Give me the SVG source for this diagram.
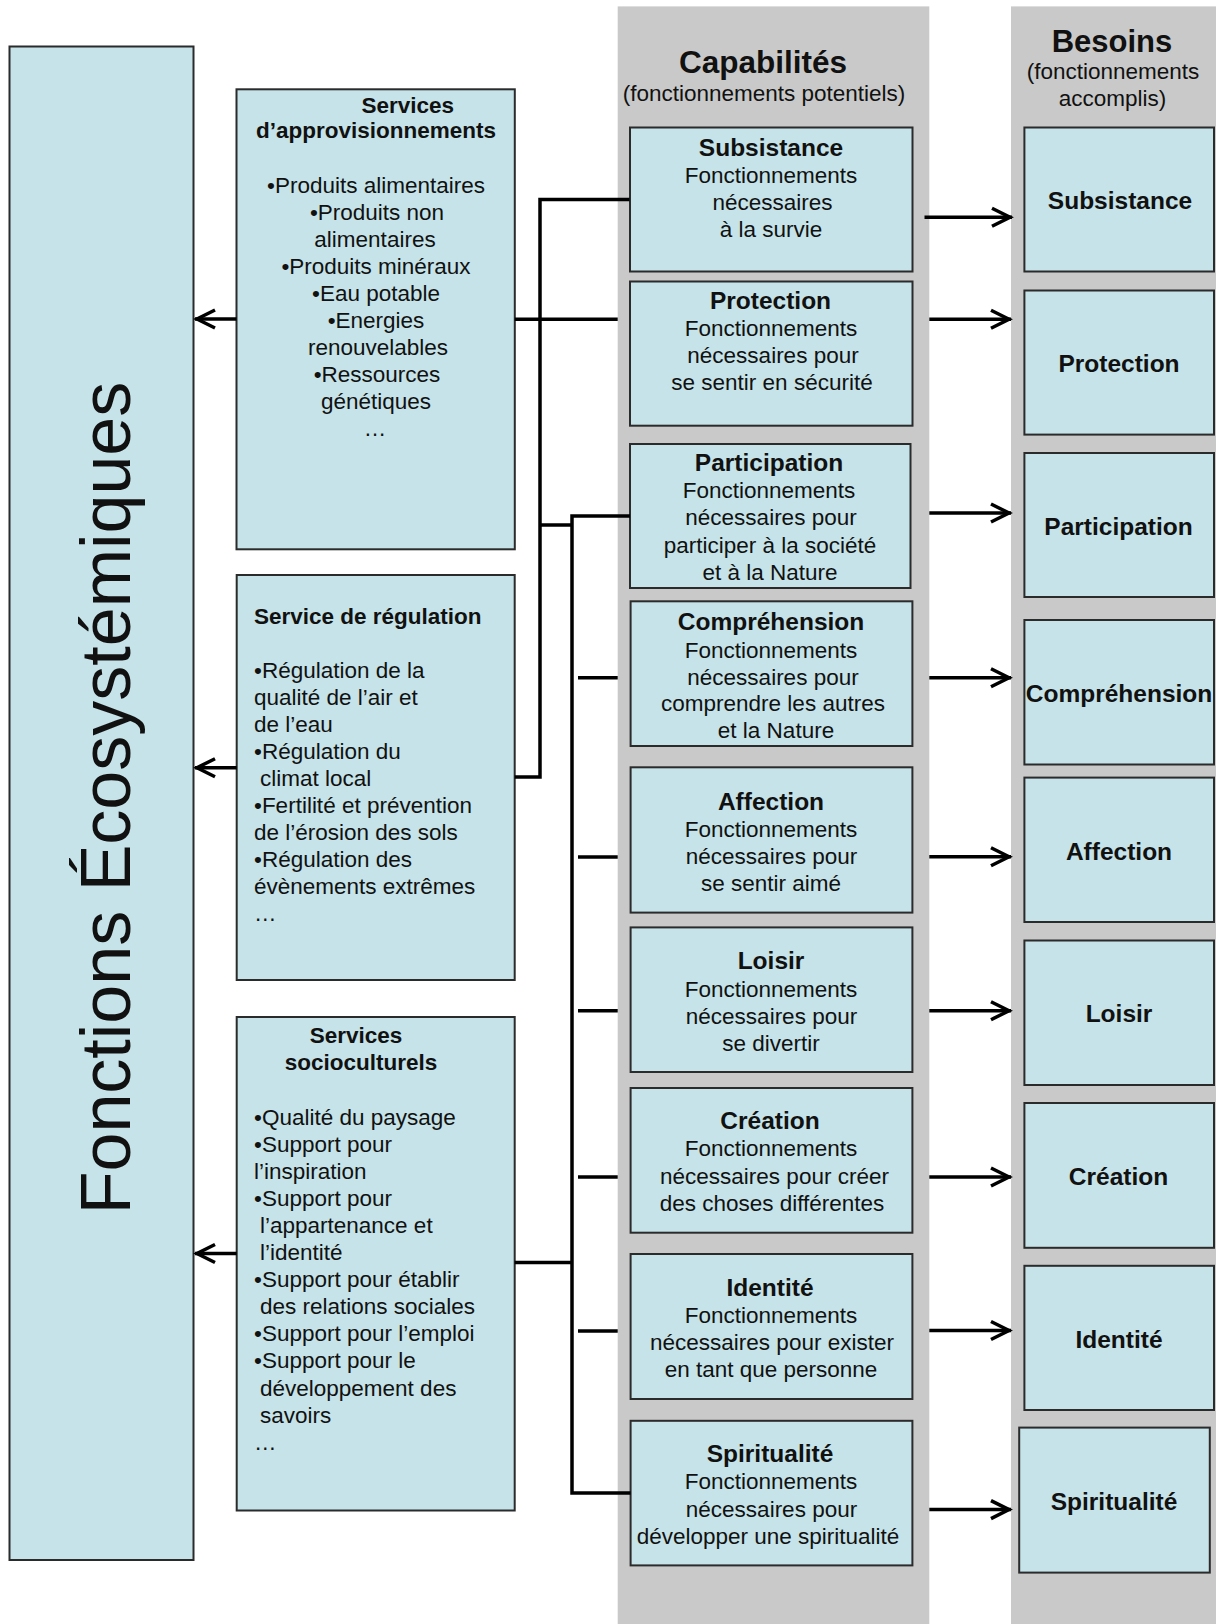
<svg xmlns="http://www.w3.org/2000/svg" width="1216" height="1624" viewBox="0 0 1216 1624">
<defs>
<style>
.box{fill:#c5e3e8;stroke:#2b2b2b;stroke-width:2}
.col{fill:#c9c9c9}
.t{font-family:"Liberation Sans",Arial,Helvetica,sans-serif;font-size:22.5px;fill:#111}
.b{font-weight:bold}
.h{font-size:24.5px;font-weight:bold}
.big{font-size:31px;font-weight:bold}
.c{text-anchor:middle}
.wire{stroke:#000;stroke-width:3.5;fill:none}
.arr{stroke:#000;stroke-width:3.5;fill:none;marker-end:url(#chev)}
</style>
<marker id="chev" viewBox="-22 -12 26 24" refX="2" refY="0" markerWidth="26" markerHeight="24" markerUnits="userSpaceOnUse" orient="auto">
<path d="M-18,-9 L0,0 L-18,9" fill="none" stroke="#000" stroke-width="3.5"/>
</marker>
</defs>
<rect width="1216" height="1624" fill="#fff"/>

<g id="columns">
<rect class="col" x="617.7" y="6.4" width="311.6" height="1617.6"/>
<rect class="col" x="1011" y="6.4" width="205" height="1617.6"/>
</g>

<g id="headers">
<text class="t big c" x="763" y="73" style="font-size:31.5px">Capabilités</text>
<text class="t c" x="764" y="101">(fonctionnements potentiels)</text>
<text class="t big c" x="1112" y="52">Besoins</text>
<text class="t c" x="1113" y="79">(fonctionnements</text>
<text class="t c" x="1112.5" y="106">accomplis)</text>
</g>

<g id="fonctions">
<rect class="box" x="9.5" y="46.5" width="184" height="1513.5"/>
<text class="t c" transform="translate(130,798) rotate(-90)" style="font-size:70px">Fonctions Écosystémiques</text>
</g>

<g id="approvisionnement">
<rect class="box" x="236.5" y="89.3" width="278.3" height="460"/>
<text class="t b c" x="407.7" y="112.5">Services</text>
<text class="t b c" x="376" y="137.5">d’approvisionnements</text>
<text class="t c" x="376" y="193">•Produits alimentaires</text>
<text class="t c" x="377" y="220">•Produits non</text>
<text class="t c" x="375" y="247">alimentaires</text>
<text class="t c" x="376" y="274">•Produits minéraux</text>
<text class="t c" x="376" y="301">•Eau potable</text>
<text class="t c" x="376" y="328">•Energies</text>
<text class="t c" x="378" y="355">renouvelables</text>
<text class="t c" x="377" y="382">•Ressources</text>
<text class="t c" x="376" y="409">génétiques</text>
<text class="t c" x="375" y="436">…</text>
</g>

<g id="regulation">
<rect class="box" x="236.7" y="575" width="278" height="405"/>
<text class="t b" x="254" y="624">Service de régulation</text>
<text class="t" x="254" y="678">•Régulation de la</text>
<text class="t" x="254" y="705">qualité de l’air et</text>
<text class="t" x="254" y="732">de l’eau</text>
<text class="t" x="254" y="759">•Régulation du</text>
<text class="t" x="260" y="786">climat local</text>
<text class="t" x="254" y="813">•Fertilité et prévention</text>
<text class="t" x="254" y="840">de l’érosion des sols</text>
<text class="t" x="254" y="867">•Régulation des</text>
<text class="t" x="254" y="894">évènements extrêmes</text>
<text class="t" x="254" y="921">…</text>
</g>

<g id="socioculturels">
<rect class="box" x="236.7" y="1017" width="278" height="493.5"/>
<text class="t b c" x="356" y="1043">Services</text>
<text class="t b c" x="361" y="1069.6">socioculturels</text>
<text class="t" x="254" y="1124.5">•Qualité du paysage</text>
<text class="t" x="254" y="1151.6">•Support pour</text>
<text class="t" x="254" y="1178.7">l’inspiration</text>
<text class="t" x="254" y="1205.8">•Support pour</text>
<text class="t" x="260" y="1232.9">l’appartenance et</text>
<text class="t" x="260" y="1260">l’identité</text>
<text class="t" x="254" y="1287.1">•Support pour établir</text>
<text class="t" x="260" y="1314.2">des relations sociales</text>
<text class="t" x="254" y="1341.3">•Support pour l’emploi</text>
<text class="t" x="254" y="1368.4">•Support pour le</text>
<text class="t" x="260" y="1395.5">développement des</text>
<text class="t" x="260" y="1422.6">savoirs</text>
<text class="t" x="254" y="1449.7">…</text>
</g>

<g id="cap-subsistance">
<rect class="box" x="630" y="127.5" width="282.5" height="144"/>
<text class="t h c" x="771" y="156">Subsistance</text>
<text class="t c" x="771" y="183">Fonctionnements</text>
<text class="t c" x="772.5" y="210">nécessaires</text>
<text class="t c" x="771" y="237">à la survie</text>
</g>
<g id="cap-protection">
<rect class="box" x="630" y="281.5" width="282.5" height="144.2"/>
<text class="t h c" x="770.5" y="309">Protection</text>
<text class="t c" x="771" y="336">Fonctionnements</text>
<text class="t c" x="773" y="363">nécessaires pour</text>
<text class="t c" x="772" y="390">se sentir en sécurité</text>
</g>
<g id="cap-participation">
<rect class="box" x="630" y="444" width="280.5" height="144"/>
<text class="t h c" x="769" y="471.4">Participation</text>
<text class="t c" x="769" y="498">Fonctionnements</text>
<text class="t c" x="771" y="525">nécessaires pour</text>
<text class="t c" x="770" y="553">participer à la société</text>
<text class="t c" x="770" y="579.6">et à la Nature</text>
</g>
<g id="cap-comprehension">
<rect class="box" x="630.6" y="601.3" width="281.8" height="144.7"/>
<text class="t h c" x="771" y="630.2">Compréhension</text>
<text class="t c" x="771" y="657.8">Fonctionnements</text>
<text class="t c" x="773" y="684.6">nécessaires pour</text>
<text class="t c" x="773" y="711.4">comprendre les autres</text>
<text class="t c" x="776" y="738.2">et la Nature</text>
</g>
<g id="cap-affection">
<rect class="box" x="630.6" y="767.3" width="281.8" height="145.3"/>
<text class="t h c" x="771" y="810.3">Affection</text>
<text class="t c" x="771" y="837">Fonctionnements</text>
<text class="t c" x="771.5" y="864">nécessaires pour</text>
<text class="t c" x="771" y="891">se sentir aimé</text>
</g>
<g id="cap-loisir">
<rect class="box" x="630.6" y="927.4" width="281.8" height="144.6"/>
<text class="t h c" x="771" y="969">Loisir</text>
<text class="t c" x="771" y="996.5">Fonctionnements</text>
<text class="t c" x="771.5" y="1023.7">nécessaires pour</text>
<text class="t c" x="771" y="1050.5">se divertir</text>
</g>
<g id="cap-creation">
<rect class="box" x="630.6" y="1088" width="281.8" height="144.7"/>
<text class="t h c" x="770" y="1129">Création</text>
<text class="t c" x="771" y="1156.4">Fonctionnements</text>
<text class="t c" x="774.5" y="1184">nécessaires pour créer</text>
<text class="t c" x="772" y="1211">des choses différentes</text>
</g>
<g id="cap-identite">
<rect class="box" x="630.6" y="1254" width="281.8" height="145"/>
<text class="t h c" x="770" y="1295.6">Identité</text>
<text class="t c" x="771" y="1322.6">Fonctionnements</text>
<text class="t c" x="772" y="1349.6">nécessaires pour exister</text>
<text class="t c" x="771" y="1376.5">en tant que personne</text>
</g>
<g id="cap-spiritualite">
<rect class="box" x="630.6" y="1420.8" width="281.8" height="144.6"/>
<text class="t h c" x="770" y="1461.8">Spiritualité</text>
<text class="t c" x="771" y="1489">Fonctionnements</text>
<text class="t c" x="771.5" y="1516.8">nécessaires pour</text>
<text class="t c" x="768" y="1543.8">développer une spiritualité</text>
</g>

<g id="bes-subsistance">
<rect class="box" x="1024.4" y="127.5" width="189.6" height="144"/>
<text class="t h c" x="1120" y="209">Subsistance</text>
</g>
<g id="bes-protection">
<rect class="box" x="1024.4" y="290.5" width="189.6" height="144.1"/>
<text class="t h c" x="1119" y="372">Protection</text>
</g>
<g id="bes-participation">
<rect class="box" x="1024.4" y="453" width="189.6" height="144"/>
<text class="t h c" x="1118.5" y="534.5">Participation</text>
</g>
<g id="bes-comprehension">
<rect class="box" x="1024.4" y="620" width="189.6" height="144.5"/>
<text class="t h c" x="1119" y="701.5">Compréhension</text>
</g>
<g id="bes-affection">
<rect class="box" x="1024.4" y="777.6" width="189.6" height="144.4"/>
<text class="t h c" x="1119" y="859.5">Affection</text>
</g>
<g id="bes-loisir">
<rect class="box" x="1024.4" y="940.5" width="189.6" height="144.5"/>
<text class="t h c" x="1119" y="1022">Loisir</text>
</g>
<g id="bes-creation">
<rect class="box" x="1024.4" y="1103" width="189.6" height="144.8"/>
<text class="t h c" x="1118.5" y="1185">Création</text>
</g>
<g id="bes-identite">
<rect class="box" x="1024.4" y="1265.8" width="189.6" height="144.2"/>
<text class="t h c" x="1119" y="1347.8">Identité</text>
</g>
<g id="bes-spiritualite">
<rect class="box" x="1019.2" y="1427.6" width="190.6" height="145"/>
<text class="t h c" x="1114" y="1509.5">Spiritualité</text>
</g>

<g id="connectors">
<path class="wire" d="M629.5,199.5 H540 V777 H514.7"/>
<path class="wire" d="M514.8,319.3 H617.7"/>
<path class="wire" d="M540,525 H572"/>
<path class="wire" d="M630,516 H572 V1493 H630.6"/>
<path class="wire" d="M514.7,1262.6 H572"/>
<path class="wire" d="M578,677.7 H617.7 M578,857 H617.7 M578,1010.7 H617.7 M578,1177 H617.7 M578,1331 H617.7"/>
<path class="arr" d="M236.5,319 H195"/>
<path class="arr" d="M236.7,767.7 H195"/>
<path class="arr" d="M236.7,1253.5 H195"/>
<path class="arr" d="M924.5,217.3 H1012"/>
<path class="arr" d="M929.3,319.3 H1011"/>
<path class="arr" d="M929.3,513 H1011"/>
<path class="arr" d="M929.3,677.7 H1011"/>
<path class="arr" d="M929.3,856.8 H1011"/>
<path class="arr" d="M929.3,1010.7 H1011"/>
<path class="arr" d="M929.3,1177 H1011"/>
<path class="arr" d="M929.3,1330.5 H1011"/>
<path class="arr" d="M929.3,1509.6 H1011"/>
</g>
</svg>
